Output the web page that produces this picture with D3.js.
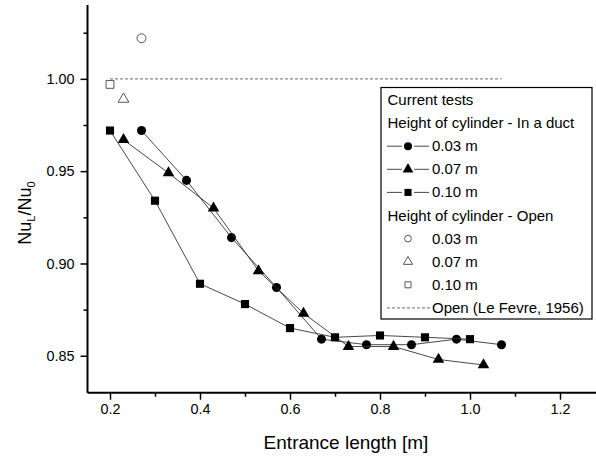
<!DOCTYPE html>
<html>
<head>
<meta charset="utf-8">
<script src="https://cdn.jsdelivr.net/npm/d3@7"></script>
<style>
  body { margin: 0; background: #fff; }
  svg { font-family: "Liberation Sans", Arial, sans-serif; }
</style>
</head>
<body>
<svg width="596" height="457"></svg>
<script>

// duct series, cylinder height 0.03 m
const duct03X = [0.27, 0.37, 0.47, 0.57, 0.67, 0.77, 0.87, 0.97, 1.07];
const duct03Y = [0.972, 0.945, 0.914, 0.887, 0.859, 0.856, 0.856, 0.859, 0.856];

// duct series, 0.07 m
const duct07X = [0.23, 0.33, 0.43, 0.53, 0.63, 0.73, 0.83, 0.93, 1.03];
const duct07Y = [0.967, 0.949, 0.930, 0.896, 0.873, 0.855, 0.855, 0.848, 0.845];

// duct series, 0.10 m
const duct10X = [0.2, 0.3, 0.4, 0.5, 0.6, 0.7, 0.8, 0.9, 1.0];
const duct10Y = [0.972, 0.934, 0.889, 0.878, 0.865, 0.860, 0.861, 0.860, 0.859];

// open cylinders (0.03, 0.07, 0.10 m)
const openX = [0.27, 0.23, 0.2];
const openY = [1.022, 0.989, 0.997];

// Le Fevre reference line
const leFevreX = [0.2, 1.07];
const leFevreY = [1.0, 1.0];

const xTicks = [0.2, 0.4, 0.6, 0.8, 1.0, 1.2];
const xMinor = [0.3, 0.5, 0.7, 0.9, 1.1];
const yTicks = [0.85, 0.90, 0.95, 1.00];
const yMinor = [0.875, 0.925, 0.975, 1.025];

const legendRows = [
    {label: "Current tests"},
    {label: "Height of cylinder - In a duct"},
    {label: "0.03 m", sym: d3.symbolCircle, fill: true},
    {label: "0.07 m", sym: d3.symbolTriangle, fill: true},
    {label: "0.10 m", sym: d3.symbolSquare, fill: true},
    {label: "Height of cylinder - Open"},
    {label: "0.03 m", sym: d3.symbolCircle, fill: false},
    {label: "0.07 m", sym: d3.symbolTriangle, fill: false},
    {label: "0.10 m", sym: d3.symbolSquare, fill: false},
    {label: "Open (Le Fevre, 1956)", dash: true}
];

const svg = d3.select("svg");

const x = d3.scaleLinear().domain([0.15, 1.28]).range([87.5, 596]);
const y = d3.scaleLinear().domain([0.83, 1.04]).range([392.7, 5]);

const zip = (xs, ys) => xs.map((v, i) => [v, ys[i]]);

// axes
const gx = svg.append("g").attr("transform", "translate(0,392.7)");
gx.call(d3.axisBottom(x).tickValues(xTicks).tickFormat(d3.format(".1f")).tickSize(7).tickPadding(4));
gx.append("g").call(d3.axisBottom(x).tickValues(xMinor).tickFormat("").tickSize(4))
    .select(".domain").remove();

const gy = svg.append("g").attr("transform", "translate(87.5,0)");
gy.call(d3.axisLeft(y).tickValues(yTicks).tickFormat(d3.format(".2f")).tickSize(7).tickPadding(6));
gy.append("g").call(d3.axisLeft(y).tickValues(yMinor).tickFormat("").tickSize(4))
    .select(".domain").remove();

svg.selectAll(".domain").attr("stroke", "#000").attr("stroke-width", 2);
gx.select(".domain").attr("d", "M87.5,0H596");
gy.select(".domain").attr("d", "M0,5V392.7");
svg.selectAll(".tick line").attr("stroke", "#000").attr("stroke-width", 1.5);
svg.selectAll(".tick text").attr("font-size", 14.4).attr("fill", "#000")
    .attr("font-family", '"Liberation Sans", Arial, sans-serif');

// axis titles
svg.append("text")
    .attr("x", 346).attr("y", 449)
    .attr("text-anchor", "middle")
    .attr("font-size", 19)
    .text("Entrance length [m]");

const yt = svg.append("text")
    .attr("transform", "translate(31,213) rotate(-90)")
    .attr("text-anchor", "middle")
    .attr("font-size", 18);
yt.append("tspan").text("Nu");
yt.append("tspan").attr("font-size", 11).attr("dy", 4).text("L");
yt.append("tspan").attr("dy", -4).text("/Nu");
yt.append("tspan").attr("font-size", 11).attr("dy", 4).text("0");

// Le Fevre dashed line
const line = d3.line().x(d => x(d[0])).y(d => y(d[1]));
svg.append("path")
    .attr("d", line(zip(leFevreX, leFevreY)))
    .attr("fill", "none").attr("stroke", "#888")
    .attr("stroke-width", 1.2).attr("stroke-dasharray", "3,2");

// duct series
const series = [
    {xs: duct03X, ys: duct03Y, sym: d3.symbolCircle, size: 64},
    {xs: duct07X, ys: duct07Y, sym: d3.symbolTriangle, size: 58},
    {xs: duct10X, ys: duct10Y, sym: d3.symbolSquare, size: 66}
];

series.forEach(s => {
    const pts = zip(s.xs, s.ys);
    svg.append("path")
        .attr("d", line(pts))
        .attr("fill", "none").attr("stroke", "#333").attr("stroke-width", 0.9);
    svg.append("g").selectAll("path")
        .data(pts)
        .join("path")
        .attr("transform", d => `translate(${x(d[0])},${y(d[1])})`)
        .attr("d", d3.symbol().type(s.sym).size(s.size))
        .attr("fill", "#000");
});

// open markers
const openSyms = [d3.symbolCircle, d3.symbolTriangle, d3.symbolSquare];
const openSizes = [62, 50, 62];
svg.append("g").selectAll("path")
    .data(zip(openX, openY))
    .join("path")
    .attr("transform", d => `translate(${x(d[0])},${y(d[1])})`)
    .attr("d", (d, i) => d3.symbol().type(openSyms[i]).size(openSizes[i])())
    .attr("fill", "#fff").attr("stroke", "#555").attr("stroke-width", 1);

// legend
const lg = svg.append("g");
lg.append("rect")
    .attr("x", 381).attr("y", 87.5)
    .attr("width", 211).attr("height", 231.5)
    .attr("fill", "#fff").attr("stroke", "#000").attr("stroke-width", 1.2);

legendRows.forEach((r, i) => {
    const cy = 100 + i * 23.1;
    if (!r.sym && !r.dash) {
        lg.append("text").attr("x", 387.5).attr("y", cy + 5)
            .attr("font-size", 15).text(r.label);
        return;
    }
    if (r.dash) {
        lg.append("line").attr("x1", 387).attr("x2", 430).attr("y1", cy).attr("y2", cy)
            .attr("stroke", "#888").attr("stroke-width", 1.2).attr("stroke-dasharray", "3,2");
        lg.append("text").attr("x", 432).attr("y", cy + 5)
            .attr("font-size", 15).text(r.label);
        return;
    }
    if (r.fill) {
        lg.append("line").attr("x1", 387).attr("x2", 402).attr("y1", cy).attr("y2", cy)
            .attr("stroke", "#333").attr("stroke-width", 0.9);
        lg.append("line").attr("x1", 414).attr("x2", 429).attr("y1", cy).attr("y2", cy)
            .attr("stroke", "#333").attr("stroke-width", 0.9);
        lg.append("path")
            .attr("transform", `translate(408,${cy})`)
            .attr("d", d3.symbol().type(r.sym).size(50))
            .attr("fill", "#000");
        lg.append("text").attr("x", 432).attr("y", cy + 5)
            .attr("font-size", 15).text(r.label);
    } else {
        lg.append("path")
            .attr("transform", `translate(408,${cy})`)
            .attr("d", d3.symbol().type(r.sym).size(36))
            .attr("fill", "#fff").attr("stroke", "#555").attr("stroke-width", 1);
        lg.append("text").attr("x", 432).attr("y", cy + 5)
            .attr("font-size", 15).text(r.label);
    }
});

</script>
</body>
</html>
